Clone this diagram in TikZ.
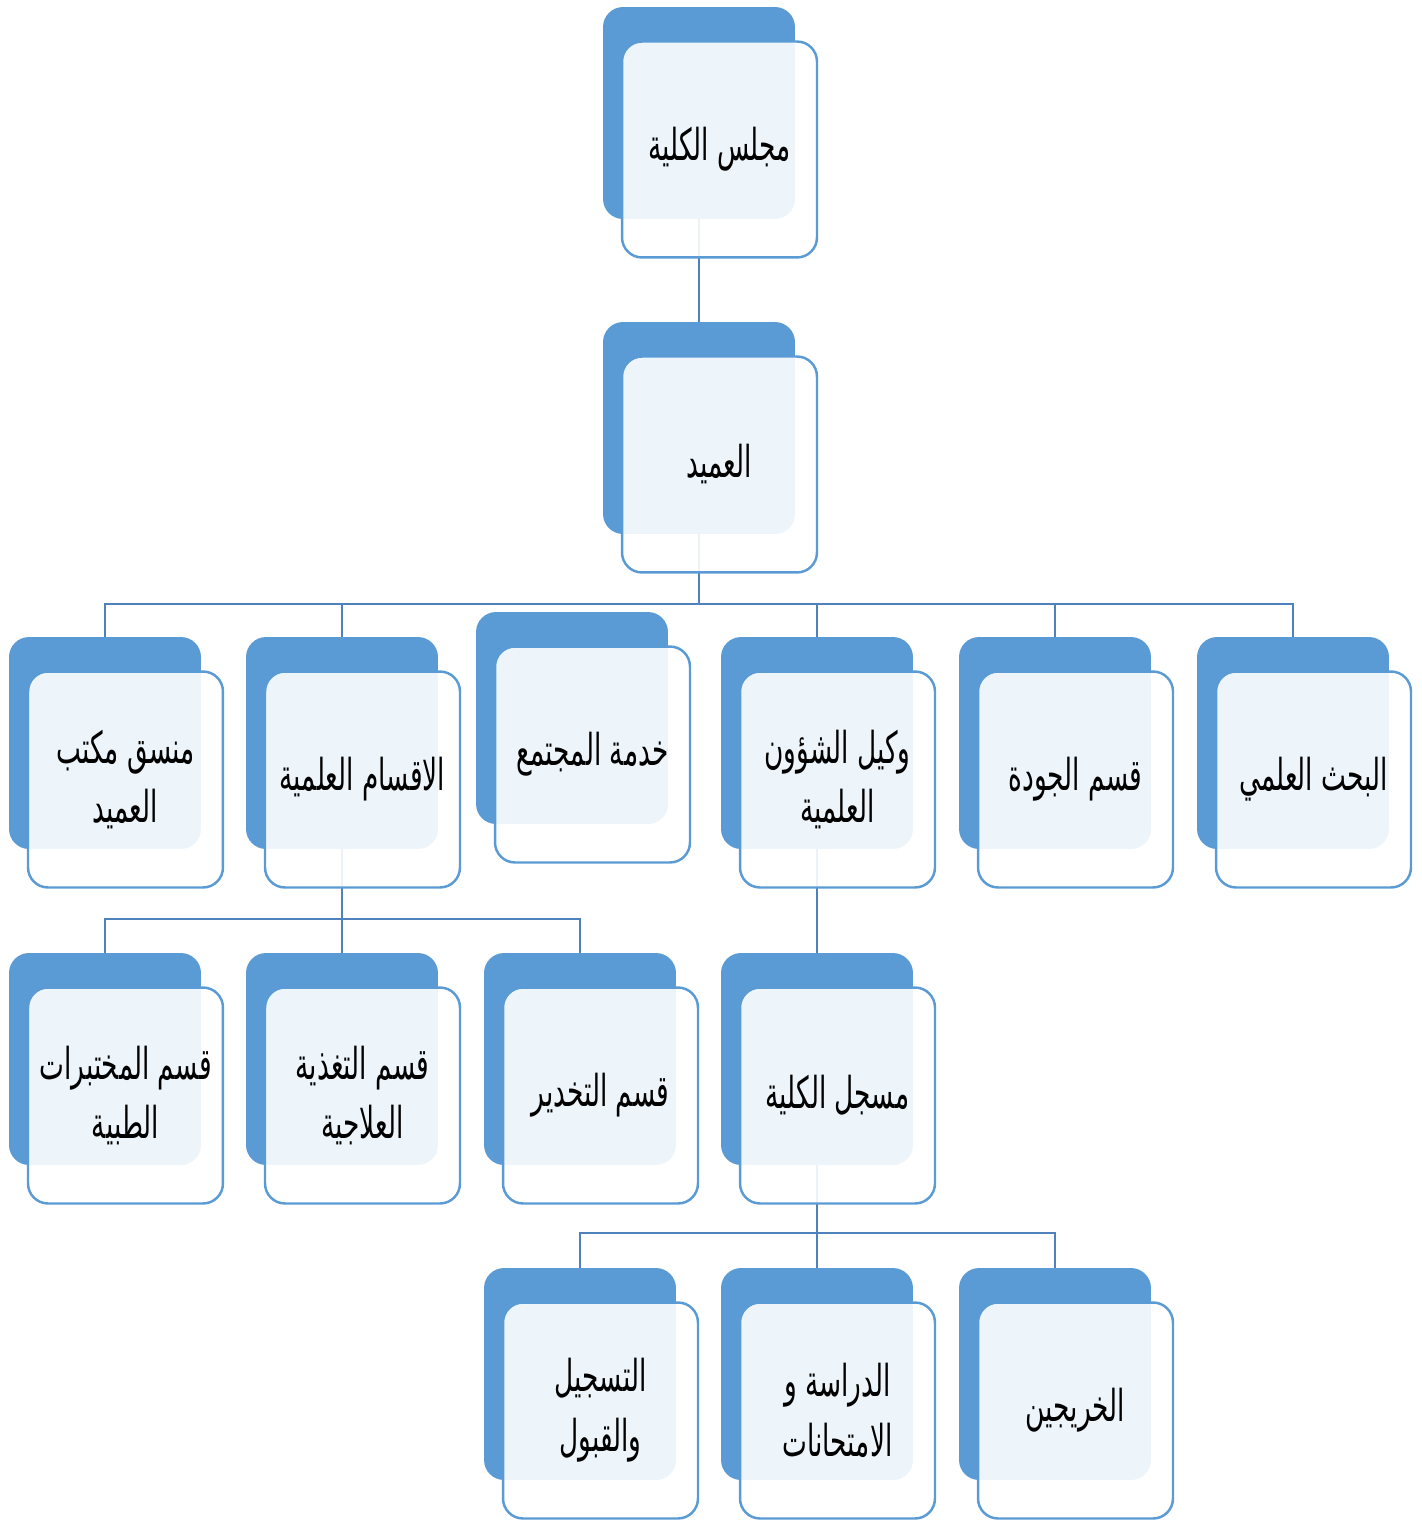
\documentclass[tikz,border=0pt]{standalone}
\usepackage{fontspec}
\newfontfamily\arabicfont[Script=Arabic,FakeStretch=0.6]{DejaVu Sans}
\TeXXeTstate=1
\newcommand{\artxt}[1]{\beginR #1\endR}
\definecolor{bkblue}{HTML}{5B9BD5}
\definecolor{lnblue}{HTML}{4F81BD}

\begin{document}
\begin{tikzpicture}[
  x=0.02cm, y=-0.02cm,
  bkbox/.style={fill=bkblue, rounded corners=0.4cm, minimum width=3.84cm,
    minimum height=4.24cm, inner sep=0pt},
  frbox/.style={draw=bkblue, line width=1.4pt, fill=white, fill opacity=0.9,
    text opacity=1, rounded corners=0.4cm, minimum width=3.9cm,
    minimum height=4.32cm, inner sep=0pt, xshift=0.41cm, yshift=-0.73cm,
    align=center, font=\arabicfont\fontsize{25}{34}\selectfont},
  conn/.style={draw=lnblue, line width=1.3pt}
]

\useasboundingbox (0,0) rectangle (1421,1521);

% back boxes
\node [bkbox] (councilB) at (699,113) {};
\node [bkbox] (deanB) at (699,428) {};

\node [bkbox] (coordB) at (105,743) {};
\node [bkbox] (deptsB) at (342,743) {};
\node [bkbox] (communB) at (572,718) {};
\node [bkbox] (viceB) at (817,743) {};
\node [bkbox] (qualityB) at (1055,743) {};
\node [bkbox] (researchB) at (1293,743) {};

\node [bkbox] (labsB) at (105,1059) {};
\node [bkbox] (nutriB) at (342,1059) {};
\node [bkbox] (anestB) at (580,1059) {};
\node [bkbox] (registB) at (817,1059) {};

\node [bkbox] (admitB) at (580,1374) {};
\node [bkbox] (examsB) at (817,1374) {};
\node [bkbox] (gradsB) at (1055,1374) {};

% connectors
\draw [conn] (councilB.south) -- (deanB.north);

\draw [conn] (deanB.south) -- ++(0,70) -| (coordB.north);
\draw [conn] (deanB.south) -- ++(0,70) -| (deptsB.north);
\draw [conn] (deanB.south) -- ++(0,70) -| (viceB.north);
\draw [conn] (deanB.south) -- ++(0,70) -| (qualityB.north);
\draw [conn] (deanB.south) -- ++(0,70) -| (researchB.north);

\draw [conn] (deptsB.south) -- ++(0,70) -| (labsB.north);
\draw [conn] (deptsB.south) -- ++(0,70) -| (nutriB.north);
\draw [conn] (deptsB.south) -- ++(0,70) -| (anestB.north);

\draw [conn] (viceB.south) -- (registB.north);

\draw [conn] (registB.south) -- ++(0,68) -| (admitB.north);
\draw [conn] (registB.south) -- ++(0,68) -| (examsB.north);
\draw [conn] (registB.south) -- ++(0,68) -| (gradsB.north);

% front boxes
\node [frbox] (council) at (councilB) {\artxt{مجلس الكلية}};
\node [frbox] (dean) at (deanB) {\artxt{العميد}};

\node [frbox] (coord) at (coordB) {\artxt{منسق مكتب}\\\artxt{العميد}};
\node [frbox] (depts) at (deptsB) {\artxt{الاقسام العلمية}};
\node [frbox] (commun) at (communB) {\artxt{خدمة المجتمع}};
\node [frbox] (vice) at (viceB) {\artxt{وكيل الشؤون}\\\artxt{العلمية}};
\node [frbox] (quality) at (qualityB) {\artxt{قسم الجودة}};
\node [frbox] (research) at (researchB) {\artxt{البحث العلمي}};

\node [frbox] (labs) at (labsB) {\artxt{قسم المختبرات}\\\artxt{الطبية}};
\node [frbox] (nutri) at (nutriB) {\artxt{قسم التغذية}\\\artxt{العلاجية}};
\node [frbox] (anest) at (anestB) {\artxt{قسم التخدير}};
\node [frbox] (regist) at (registB) {\artxt{مسجل الكلية}};

\node [frbox] (admit) at (admitB) {\artxt{التسجيل}\\\artxt{والقبول}};
\node [frbox] (exams) at (examsB) {\artxt{الدراسة و}\\\artxt{الامتحانات}};
\node [frbox] (grads) at (gradsB) {\artxt{الخريجين}};

\end{tikzpicture}
\end{document}
